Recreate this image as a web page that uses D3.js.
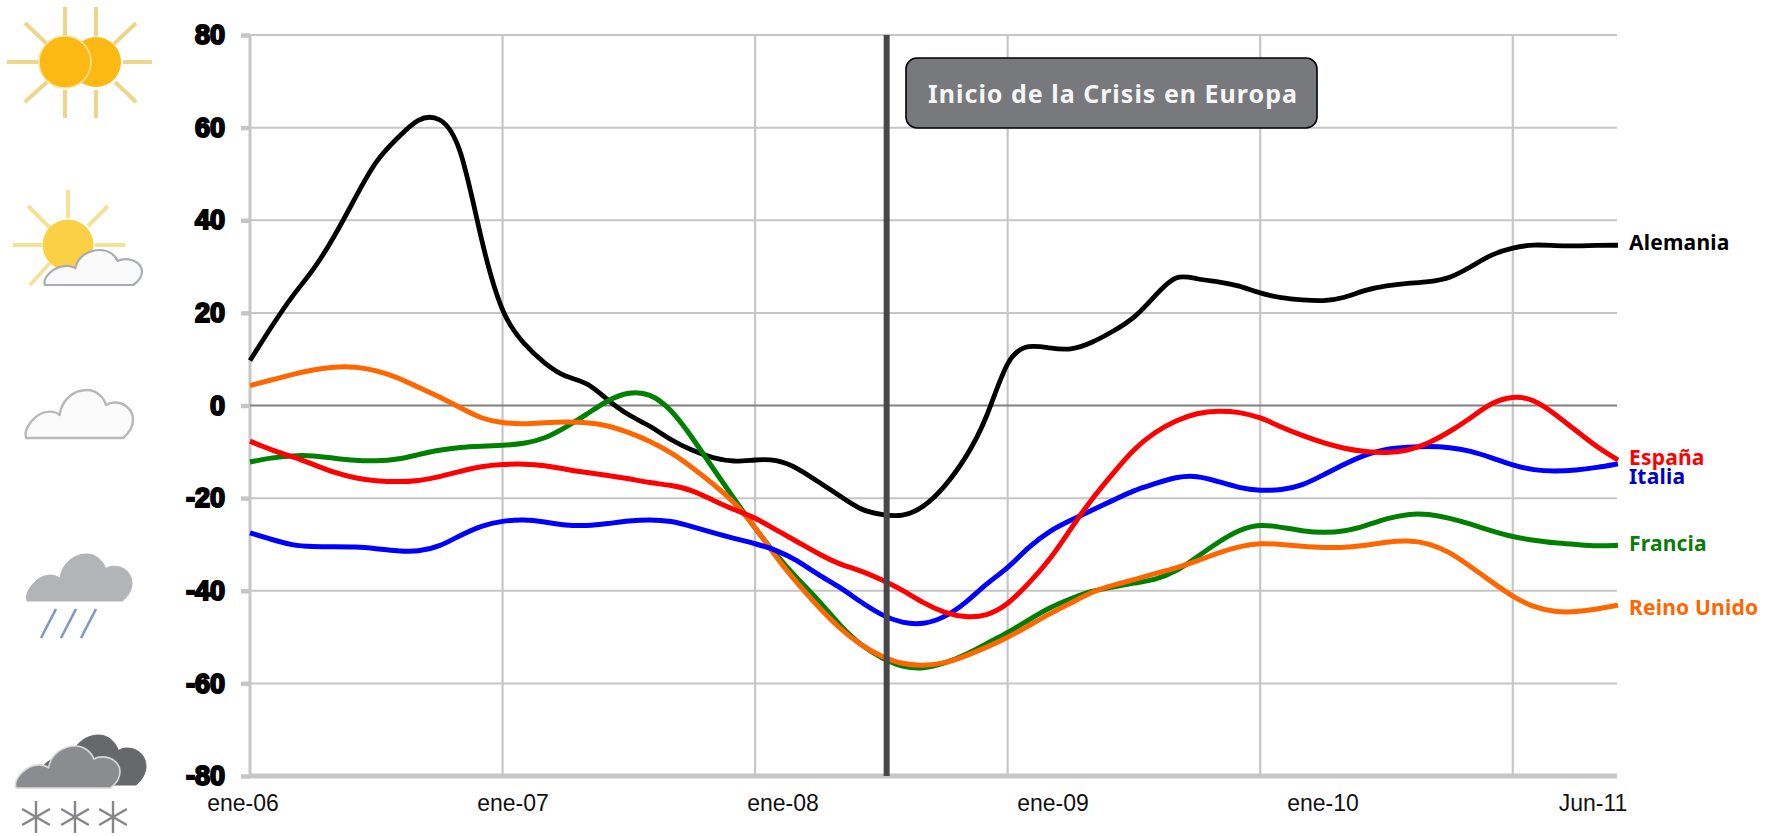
<!DOCTYPE html>
<html lang="es">
<head>
<meta charset="utf-8">
<title>Clima económico en Europa</title>
<script src="https://cdn.jsdelivr.net/npm/d3@7"></script>
<style>
html,body{margin:0;padding:0;background:#fff;overflow:hidden}
svg{display:block}
</style>
</head>
<body>
<svg id="chart" width="1776" height="836"></svg>
<script>
const alemania = [9.7,16.9,23.7,29.1,36.3,44.9,53.2,57.7,62.3,62.6,57.5,34.8,19.0,13.3,9.0,6.0,5.2,1.1,-2.2,-4.3,-7.5,-9.7,-11.4,-12.2,-11.7,-11.6,-13.4,-16.5,-19.4,-22.6,-23.6,-24.1,-22.1,-17.7,-11.5,-3.2,11.0,13.2,12.4,11.9,13.5,16.0,18.7,23.7,28.6,27.2,26.8,25.9,24.2,23.2,22.8,22.5,23.2,25.0,25.9,26.4,26.7,27.4,29.9,32.7,34.1,34.8,34.5,34.4,34.6,34.6];
const espana = [-7.7,-9.6,-11,-12.7,-14.5,-15.7,-16.3,-16.5,-16.3,-15.4,-14.2,-13.1,-12.7,-12.6,-12.9,-13.8,-14.5,-15.1,-15.8,-16.7,-17.2,-18.2,-20.5,-22.5,-24.2,-26.9,-29.4,-32,-34.3,-35.6,-37.6,-39.8,-42.7,-44.8,-45.8,-45.5,-43.1,-38.4,-33.4,-26.6,-20.1,-14.7,-9.3,-5.7,-3.2,-1.6,-1.1,-1.4,-2.5,-4.7,-6.5,-8.1,-9.3,-10,-10.3,-9.8,-8.2,-5.7,-2.7,0.7,2.1,1.4,-1.8,-5.4,-9,-11.8];
const italia = [-27.5,-28.9,-30.2,-30.5,-30.5,-30.5,-30.9,-31.4,-31.6,-30.5,-28,-25.9,-24.9,-24.6,-25.1,-25.9,-26,-25.5,-24.9,-24.6,-24.9,-26.1,-27.5,-28.7,-29.8,-31.2,-33.4,-36.6,-39.1,-42.4,-45.3,-47,-47.3,-45.8,-42.7,-38.4,-35.2,-30.5,-27,-24.8,-22.6,-20.5,-18.3,-16.9,-15.4,-15.1,-16.4,-17.8,-18.4,-18.3,-17.3,-15,-12.6,-10.6,-9.3,-9,-8.8,-9,-9.8,-11.3,-12.9,-14,-14.2,-14,-13.4,-12.6];
const francia = [-12.2,-11.3,-10.8,-10.8,-11.4,-11.9,-12,-11.7,-10.6,-9.6,-9,-8.8,-8.6,-8.3,-7.2,-4.7,-1.9,1.2,3.0,2.7,-0.7,-6.8,-13.6,-20.1,-26.6,-32.3,-37.4,-41.9,-47.4,-51.7,-54.6,-56.5,-56.9,-55.7,-53.9,-51.4,-49.1,-46.3,-43.6,-41.7,-40,-39.2,-38.3,-37.7,-35.9,-32.7,-29.5,-26.8,-25.6,-26.3,-27.1,-27.5,-27.2,-26,-24.4,-23.4,-23.4,-24.3,-25.6,-27.1,-28.4,-29.1,-29.7,-30,-30.4,-30.2];
const reinoUnido = [4.3,5.5,6.7,7.7,8.4,8.4,7.6,6.1,3.9,1.9,-0.5,-2.9,-3.8,-4,-3.7,-3.5,-3.6,-4.3,-5.8,-7.7,-10.1,-13.3,-16.9,-20.8,-26.2,-32.8,-38.4,-43.5,-48.1,-51.7,-54.2,-55.9,-56.2,-55.7,-54.1,-52.2,-50.1,-47.6,-44.9,-42.7,-40.2,-38.8,-37.6,-36.3,-35.1,-33.6,-31.8,-30.4,-29.7,-30,-30.4,-30.7,-30.7,-30.2,-29.5,-29.1,-29.7,-31.6,-34.8,-38.1,-41.3,-43.6,-44.6,-44.6,-44,-43.1];

const yTicks = [80,60,40,20,0,-20,-40,-60,-80];
const yearMonths = [0,12,24,36,48,60];
const xLabels = ["ene-06","ene-07","ene-08","ene-09","ene-10","Jun-11"];
const crisisMonth = 30.25;
const crisisLabel = "Inicio de la Crisis en Europa";
const seriesNames = ["Alemania","Francia","Reino Unido","Italia","España"];
const seriesColors = ["#000000","#008000","#ff6600","#0000ff","#ff0000"];
const labelColors = ["#000000","#0a7d0a","#ff6600","#0000cc","#ff0000"];
const seriesValues = [alemania,francia,reinoUnido,italia,espana];
const labelDy = [-2,-1,3,13,-2];

const svg = d3.select("#chart");
const x = d3.scaleLinear().domain([0,65]).range([250,1618]);
const y = d3.scaleLinear().domain([-80,80]).range([776,35]);
const xText = d3.scalePoint().domain(xLabels).range([243,1593]);
const GRID = "#c6c6c6";

// grid
const grid = svg.append("g");
grid.selectAll("line.v").data(yearMonths).join("line").attr("class","v")
  .attr("x1",d=>x(d)).attr("x2",d=>x(d)).attr("y1",y(80)).attr("y2",y(-80))
  .attr("stroke",GRID).attr("stroke-width",d=>d===0?3:2.2);
grid.selectAll("line.h").data(yTicks).join("line").attr("class","h")
  .attr("x1",x(0)).attr("x2",x(65)-1).attr("y1",d=>y(d)).attr("y2",d=>y(d))
  .attr("stroke",d=>d===0?"#808080":GRID)
  .attr("stroke-width",d=>d===-80?5:2);

// y axis
const yAxis = d3.axisLeft(y).tickValues(yTicks).tickSize(9).tickPadding(16).tickFormat(d3.format("d"));
const yg = svg.append("g").attr("transform",`translate(${x(0)},0)`).call(yAxis);
yg.select(".domain").remove();
yg.selectAll(".tick line").attr("stroke",GRID).attr("stroke-width",4.5);
yg.selectAll(".tick text")
  .attr("font-family","'Liberation Sans',Arial,sans-serif").attr("font-size",27).attr("font-weight",700)
  .attr("fill","#000").attr("stroke","#000").attr("stroke-width",2)
  .text(d=>String(d));

// x labels
svg.append("g").selectAll("text").data(xLabels).join("text")
  .attr("x",d=>xText(d)).attr("y",811).attr("text-anchor","middle")
  .attr("font-family","'Liberation Sans',Arial,sans-serif").attr("font-size",23).attr("fill","#111")
  .text(d=>d);

// series
const line = d3.line().x((d,i)=>x(i)).y(d=>y(d)).curve(d3.curveBasis);
svg.append("g").attr("fill","none").attr("stroke-linejoin","round").selectAll("path")
  .data(seriesValues).join("path")
  .attr("d",line).attr("stroke",(d,i)=>seriesColors[i]).attr("stroke-width",(d,i)=>i===0?4.8:5);

// series labels
svg.append("g").selectAll("text").data(seriesNames).join("text")
  .attr("x",x(65)+11)
  .attr("y",(d,i)=>y(seriesValues[i][65])+labelDy[i]+7)
  .attr("font-family","'Noto Sans',sans-serif").attr("font-size",21).attr("font-weight",700)
  .attr("letter-spacing",0.2)
  .attr("fill",(d,i)=>labelColors[i]).text(d=>d);

// crisis marker
svg.append("line").attr("x1",x(crisisMonth)).attr("x2",x(crisisMonth)).attr("y1",y(80)).attr("y2",y(-80))
  .attr("stroke","#474747").attr("stroke-width",6);
svg.append("rect").attr("x",906).attr("y",58).attr("width",411).attr("height",70).attr("rx",11)
  .attr("fill","#78797d").attr("stroke","#000").attr("stroke-width",1.6);
svg.append("text").attr("x",1113).attr("y",103).attr("text-anchor","middle")
  .attr("font-family","'Noto Sans',sans-serif").attr("font-size",25).attr("font-weight",700)
  .attr("letter-spacing",1).attr("fill","#f6f6f6").text(crisisLabel);

// weather icons
const icons = svg.append("g");
function ray(a,b,c,d,col){icons.append("line").attr("x1",a).attr("y1",b).attr("x2",c).attr("y2",d).attr("stroke",col).attr("stroke-width",4);}
function cloudPath(cx,cy,w,h){
  const p=(a,b)=>`${(cx+a*w).toFixed(1)},${(cy+b*h).toFixed(1)}`;
  return `M${p(.01,1)}C${p(-.02,.8)} ${p(.1,.45)} ${p(.23,.45)}C${p(.27,.45)} ${p(.3,.48)} ${p(.32,.52)}C${p(.34,.2)} ${p(.45,0)} ${p(.575,0)}C${p(.66,0)} ${p(.73,.15)} ${p(.75,.31)}C${p(.78,.27)} ${p(.8,.26)} ${p(.83,.26)}C${p(.93,.26)} ${p(1,.42)} ${p(1,.62)}C${p(1,.78)} ${p(.96,.9)} ${p(.91,1)}Z`;
}
function cloud(cx,cy,w,h,fill,stroke,sw){icons.append("path").attr("d",cloudPath(cx,cy,w,h)).attr("fill",fill).attr("stroke",stroke).attr("stroke-width",sw).attr("stroke-linejoin","round");}

// double sun
const RAY1="#efd58a";
[[7,62,38,62],[123,62,152,62],[65,7,65,36],[96,7,96,36],[65,90,65,118],[96,90,96,118],[25,23,47,44],[136,23,114,44],[25,102,47,82],[136,102,115,82]].forEach(r=>ray(...r,RAY1));
icons.append("circle").attr("cx",96).attr("cy",62).attr("r",25).attr("fill","#fdb913");
icons.append("circle").attr("cx",65).attr("cy",62).attr("r",26).attr("fill","#fdb913").attr("stroke","#fbe39a").attr("stroke-width",1.5);

// sun with cloud
const RAY2="#f5e298";
[[13,245,42,245],[95,245,125,245],[68,190,68,218],[28,206,50,228],[108,206,88,226],[30,285,50,263]].forEach(r=>ray(...r,RAY2));
icons.append("circle").attr("cx",68).attr("cy",245).attr("r",25.5).attr("fill","#fcd044");
cloud(44,250,98,35,"#f9f9f9","#a9adb2",2.2);

// cloud
cloud(25,390,108,48,"#fbfbfb","#b8b8b8",2.4);

// rain
cloud(26,554,106,47,"#b2b4b7","#b2b4b7",1);
[0,1,2].forEach(i=>icons.append("line").attr("x1",41+20*i).attr("y1",638).attr("x2",56+20*i).attr("y2",609).attr("stroke","#7d98c2").attr("stroke-width",2.6));

// snow
cloud(35,735,111,50,"#67686c","#67686c",1);
cloud(15,746,105,42,"#8b8c8f","#d9d9d9",1.6);
[36,75,113].forEach(c=>{[0,60,120].forEach(a=>{
  const t=a*Math.PI/180, r=16;
  icons.append("line").attr("x1",c-r*Math.sin(t)).attr("y1",817-r*Math.cos(t))
    .attr("x2",c+r*Math.sin(t)).attr("y2",817+r*Math.cos(t))
    .attr("stroke","#85868a").attr("stroke-width",2.4);
});});
</script>
</body>
</html>
